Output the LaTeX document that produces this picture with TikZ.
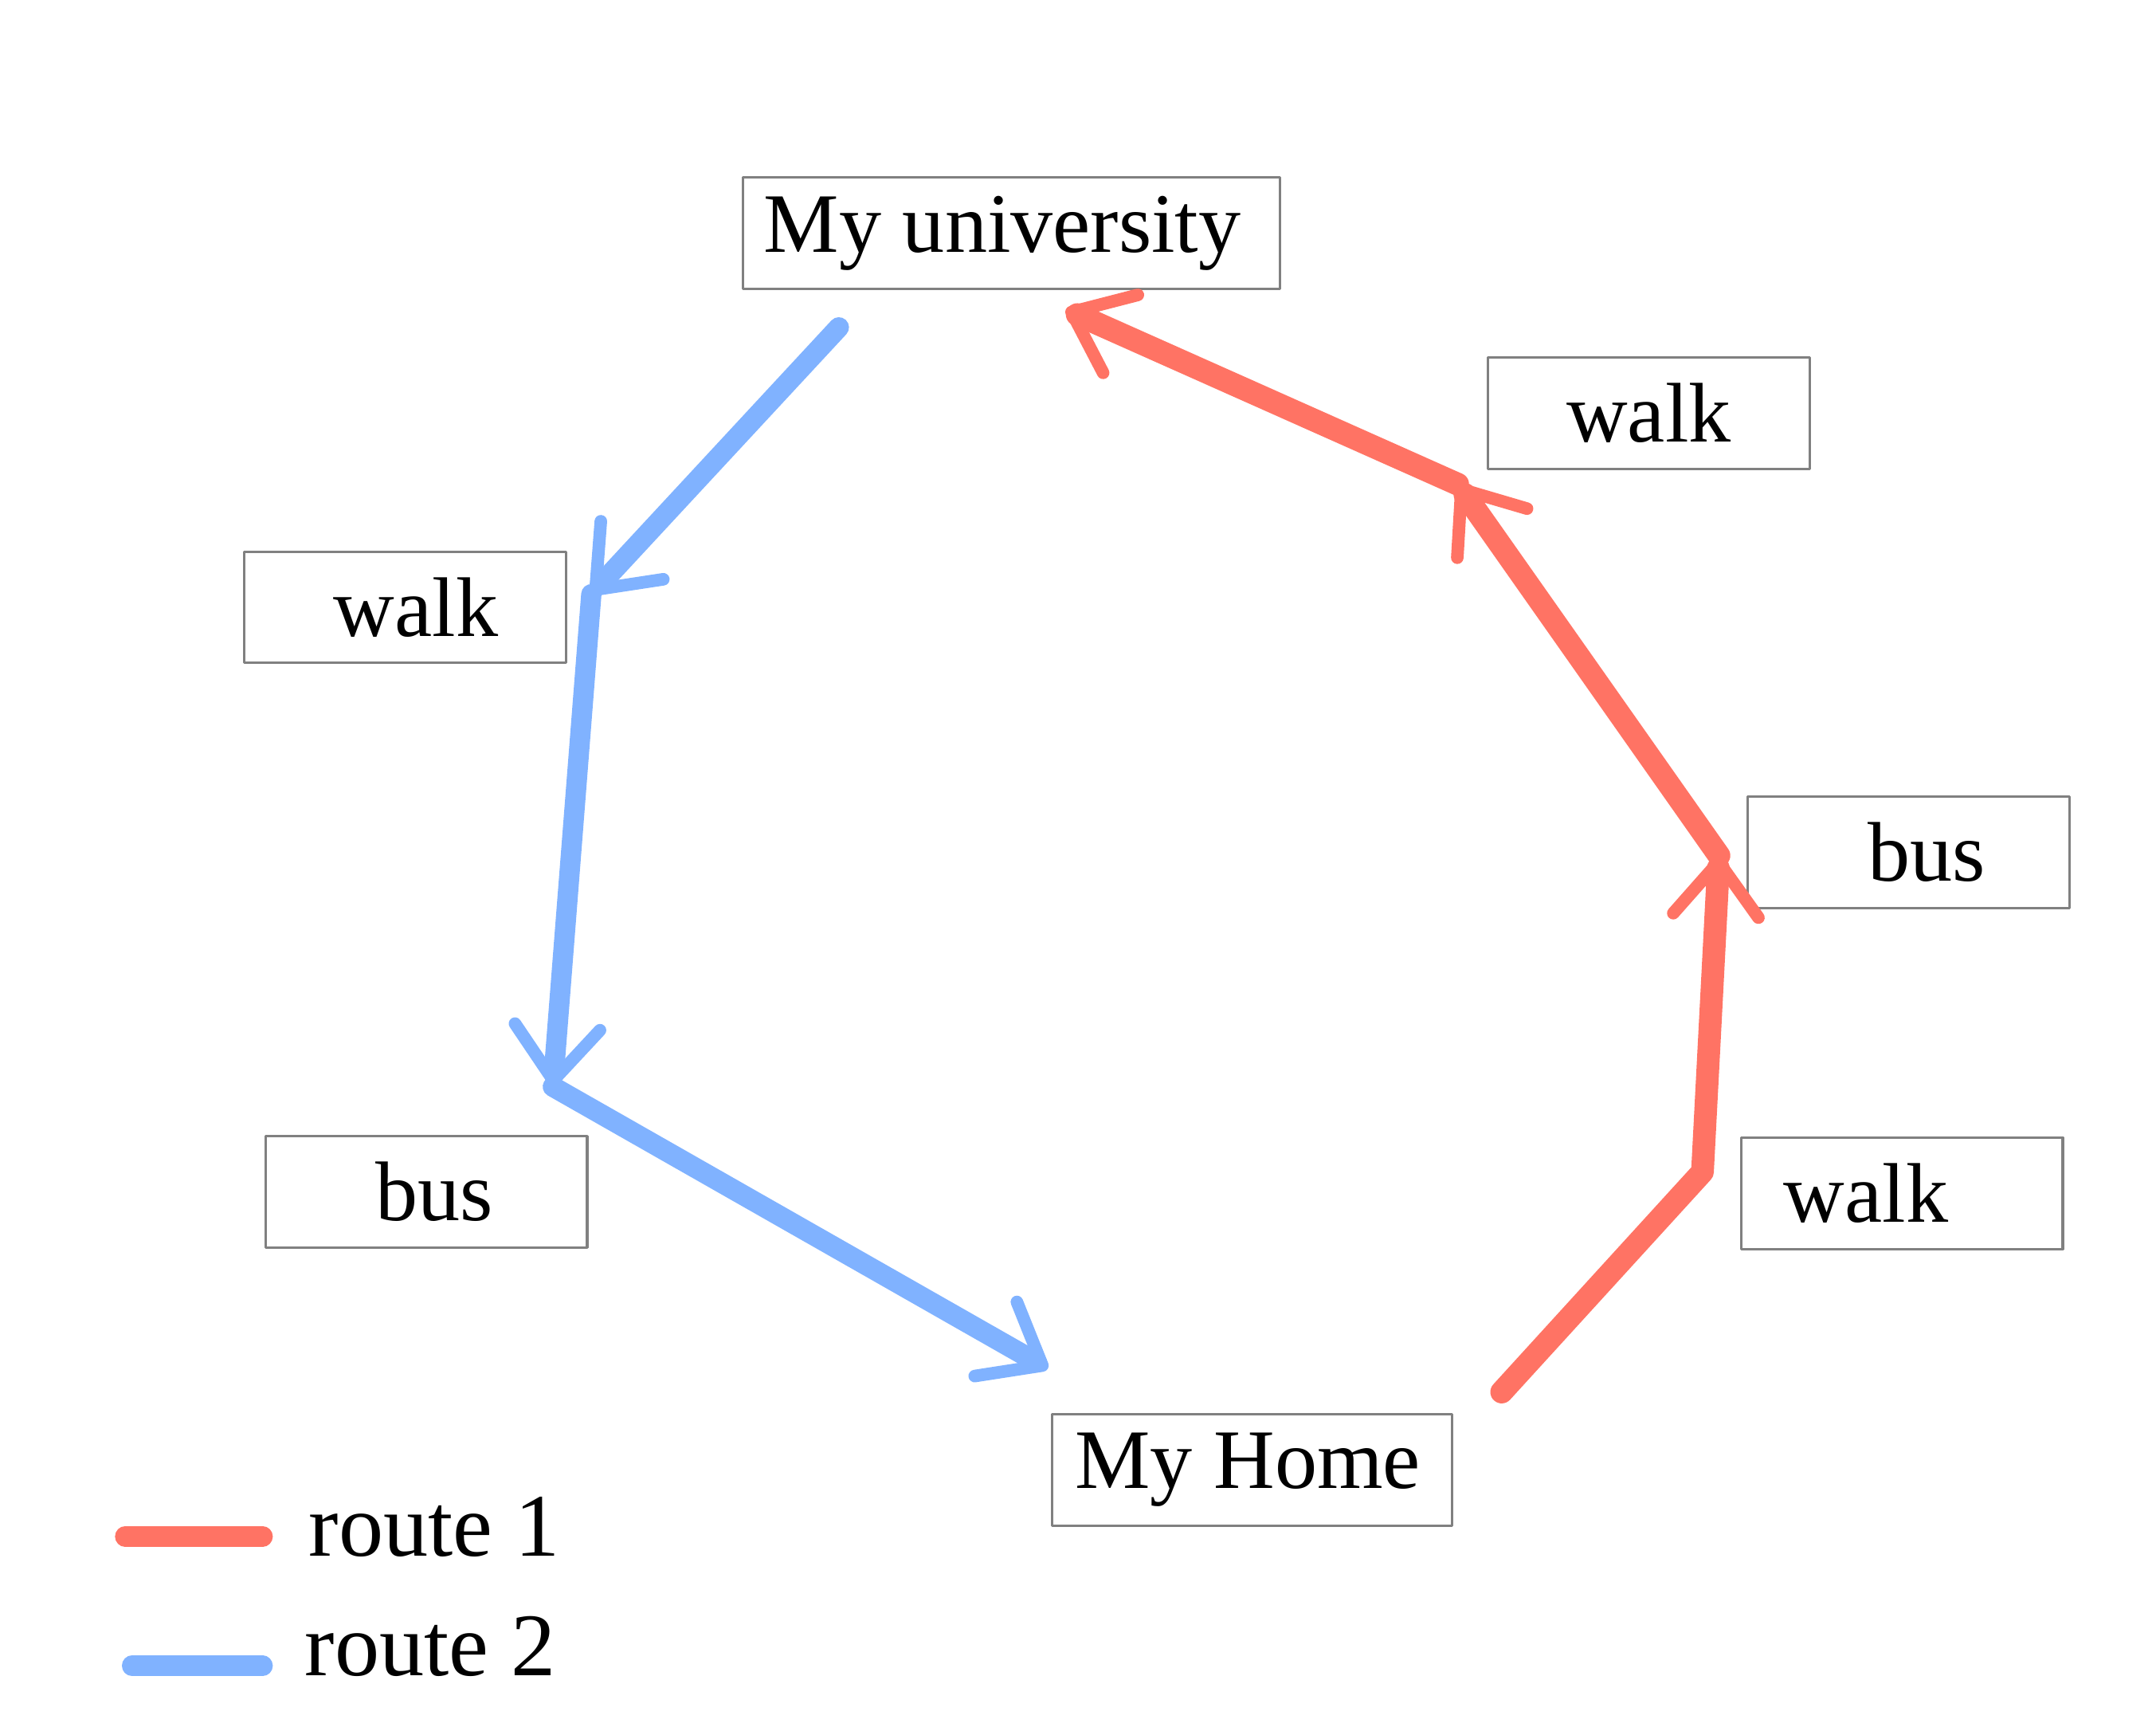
\documentclass[tikz,border=0pt]{standalone}
\usepackage{fontspec}
\setmainfont{Liberation Serif}
\usetikzlibrary{arrows.meta}
\definecolor{routeA}{RGB}{255,115,100}
\definecolor{routeB}{RGB}{128,178,255}
\begin{document}
\begin{tikzpicture}[line join=round, line cap=round,
    font=\fontsize{17.5}{21}\selectfont,
    place/.style={draw=gray, line width=0.5pt, inner sep=0pt, minimum height=0.81cm, minimum width=2.34cm},
    r1/.style={draw=routeA, line width=4.7pt},
    r2/.style={draw=routeB, line width=4.2pt},
    hand arrow/.style={-{Straight Barb[length=3.9mm, width=6.2mm, line width=2.6pt, round]}}]
                \useasboundingbox (0,-0.063) rectangle (15.678,12.545);
                \node[place, minimum width=3.91cm] (uni) at (7.355,10.85) {My university\kern0.13cm};
                \node[place] (walkA) at (11.99,9.54) {walk};
                \node[place] (walkB) at (2.945,8.13) {\kern0.16cm walk};
                \node[place] (busA) at (13.88,6.35) {\kern0.26cm bus};
                \node[place] (busB) at (3.10,3.88) {\kern0.12cm bus};
                \node[place] (walkC) at (13.83,3.87) {walk\kern0.52cm};
                \node[place, minimum width=2.91cm] (home) at (9.105,1.86) {My Home\kern0.06cm};
                \coordinate (b1) at (6.10,10.165);
                \coordinate (b2) at (4.30,8.225);
                \coordinate (b3) at (4.02,4.645);
                \coordinate (b4) at (7.62,2.595);
                \coordinate (a1) at (10.92,2.425);
                \coordinate (a2) at (12.38,4.025);
                \coordinate (a3) at (12.50,6.325);
                \coordinate (a4) at (10.60,9.025);
                \coordinate (a5) at (7.75,10.295);
                \draw[r2, hand arrow] (b1) -- (b2);
                \draw[r2, hand arrow] (b2) -- (b3);
                \draw[r2, hand arrow] (b3) -- (b4);
                \draw[r1, hand arrow] (a1) -- (a2) -- (a3);
                \draw[r1, hand arrow] (a3) -- (a4);
                \draw[r1, hand arrow] (a4) -- (a5);
                \coordinate (keyA) at (0.91,1.375);
                \coordinate (keyB) at (0.96,0.435);
                \node[anchor=west, inner sep=0pt, font=\fontsize{18.5}{22}\selectfont] (labA) at (2.24,1.445) {route 1};
                \node[anchor=west, inner sep=0pt, font=\fontsize{18.5}{22}\selectfont] (labB) at (2.21,0.575) {route 2};
                \draw[r1, line width=4.2pt] (keyA) -- ++(1.0,0);
                \draw[r2, line width=4.2pt] (keyB) -- ++(0.95,0);
            \end{tikzpicture}
\end{document}
